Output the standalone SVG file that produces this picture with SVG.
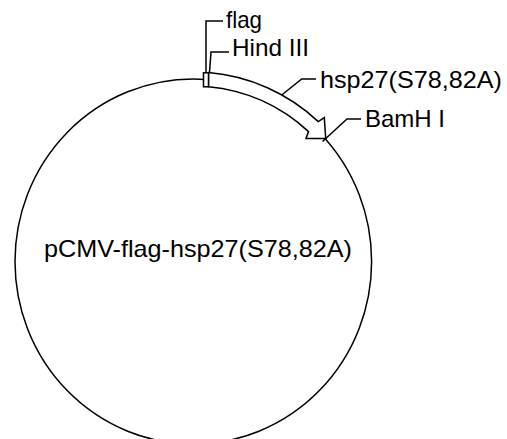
<svg xmlns="http://www.w3.org/2000/svg" width="507" height="439" viewBox="0 0 507 439">
<style>
.ln{fill:none;stroke:#000;stroke-width:1.5}
.feat{fill:#fff;stroke:#000;stroke-width:1.5;stroke-linejoin:miter}
.lbl{font-family:"Liberation Sans",Arial,sans-serif;font-size:24px;fill:#000}
</style>
<rect width="507" height="439" fill="#fff"/>
<g id="plasmid">
<ellipse class="ln" cx="193.3" cy="261.5" rx="178.3" ry="182.5"/>
<text class="lbl" x="44" y="257" textLength="308" lengthAdjust="spacingAndGlyphs">pCMV-flag-hsp27(S78,82A)</text>
</g>
<g id="hsp27">
<path class="feat" d="M208.5,72.6 A185.3,189.5 0 0 1 318.3,121.6 L324.3,117.7 L325.7,138.5 L306,138.5 L308.5,131.6 A171.3,175.5 0 0 0 208.5,86.7 Z"/>
<text class="lbl" x="320" y="88" textLength="182" lengthAdjust="spacingAndGlyphs">hsp27(S78,82A)</text>
</g>
<g id="flag">
<rect class="feat" x="203.5" y="72.8" width="5" height="14"/>
<text class="lbl" x="226" y="28" textLength="36" lengthAdjust="spacingAndGlyphs">flag</text>
</g>
<g id="hindIII">
<text class="lbl" x="232" y="56" textLength="77" lengthAdjust="spacingAndGlyphs">Hind III</text>
</g>
<g id="bamHI">
<text class="lbl" x="365" y="127">BamH I</text>
</g>
<g id="connectors">
<polyline class="ln" points="206,72.8 206,21 223,21"/>
<polyline class="ln" points="209.5,72.8 211,52 229,52"/>
<polyline class="ln" points="281.7,95 301.7,79 316,79"/>
<polyline class="ln" points="322.5,141.5 347,119 361,119"/>
</g>
</svg>
